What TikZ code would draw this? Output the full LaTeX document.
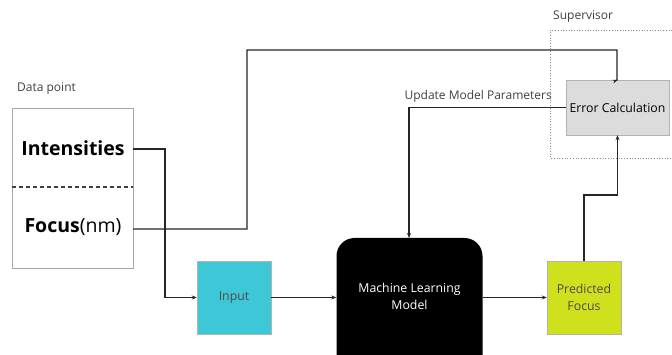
\documentclass[tikz,border=0pt]{standalone}
\usepackage{fontspec}
\setmainfont{Open Sans}
\usetikzlibrary{arrows.meta}
\definecolor{cyanbox}{HTML}{3EC7D6}
\definecolor{limebox}{HTML}{CFE01C}
\definecolor{graybox}{HTML}{DCDCDC}
\tikzset{
  conn/.style={draw=black!85, line width=1.2pt},
  arr/.style={conn, -{Stealth[length=5pt,width=4pt]}},
  lbl/.style={font=\fontsize{12}{14}\selectfont, text=black!75, inner sep=0pt},
  sqbox/.style={draw=black!30, line width=0.5pt, minimum width=74pt, minimum height=73pt, inner sep=0pt, align=center, font=\fontsize{12.3}{17}\selectfont}
}
\begin{document}
\begin{tikzpicture}[x=1pt,y=-1pt]
\useasboundingbox (0,0) rectangle (672,355);
% Data point box
\node[draw=black!35, line width=0.6pt, minimum width=121pt, minimum height=160pt, inner sep=0pt] (dp) at (72.5,188) {};
\node[lbl, anchor=west] (dplbl) at (17,89) {Data point};
\draw[dashed, line width=1.1pt, black!75, dash pattern=on 4pt off 3pt] (dp.west |- 0,187) coordinate (dl) -- (dp.east |- 0,187) coordinate (dr);
\node[font=\fontsize{19.5}{22}\selectfont\bfseries] (int) at (73,148) {Intensities};
\node[font=\fontsize{19.5}{22}\selectfont] (foc) at (73,227) {\textbf{Focus}(nm)};
\coordinate (intout) at (133,149);
\coordinate (focout) at (133,229);
% Supervisor
\draw[dotted, black!45, line width=0.7pt] (680,30) -- (550,30) -- (550,158) -- (680,158);
\node[lbl, anchor=west] (sup) at (553,17) {Supervisor};
\node[draw=black!30, fill=graybox, minimum width=103pt, minimum height=55pt, inner sep=0pt, font=\fontsize{12.3}{14}\selectfont] (err) at (617.5,107.5) {Error Calculation};
% Main row
\node[sqbox, fill=cyanbox, text=black!70] (inp) at (234,297.5) {Input};
\node[fill=black, rounded corners=18pt, minimum width=146pt, minimum height=150pt, inner sep=0pt] (mlbg) at (409.5,313) {};
\node[text=white, align=center, font=\fontsize{12.3}{17}\selectfont] (ml) at (409.5,296) {Machine Learning\\Model};
\node[sqbox, fill=limebox, text=black!70] (pred) at (584,297.5) {Predicted\\Focus};
% connectors
\draw[arr] (intout) -- (165,149) |- (inp.west);
\draw[arr] (focout) -- (247,229) -- (247,50) -| (617,80) -- (err.north);
\draw[arr] (inp.east) -- (mlbg.west |- inp.east);
\draw[arr] (mlbg.east |- pred.west) -- (pred.west);
\draw[arr] (err.west) -| (409,238);
\draw[arr] (pred.north) -- (584,195) -| (err.south);
\node[lbl, anchor=east] (upd) at (552,96) {Update Model Parameters};
\end{tikzpicture}
\end{document}
